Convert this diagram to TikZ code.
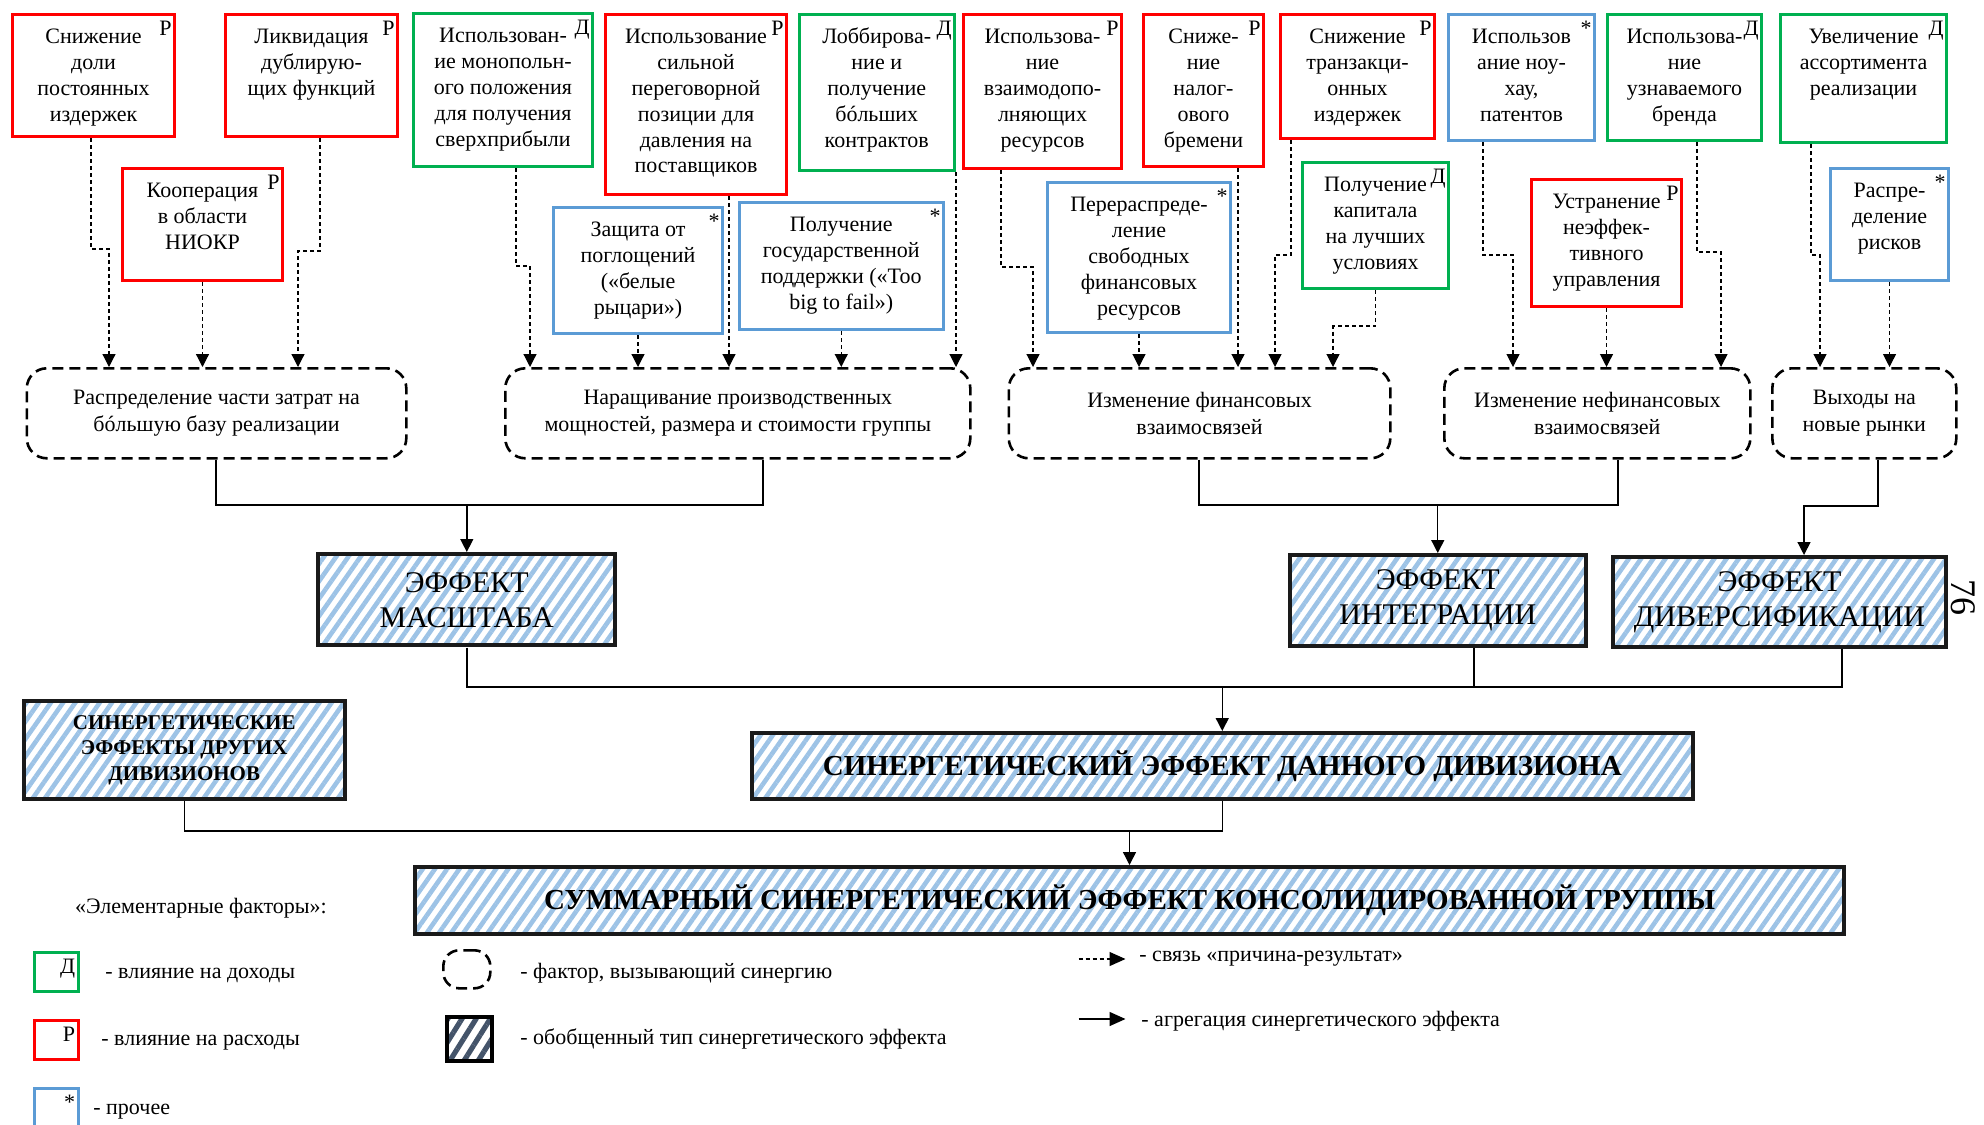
\documentclass[tikz,border=0pt]{standalone}
\usepackage{fontspec}
\setmainfont{Liberation Serif}
\usetikzlibrary{arrows.meta,patterns.meta}

\definecolor{costred}{HTML}{FF0000}
\definecolor{incgreen}{HTML}{00B050}
\definecolor{othblue}{HTML}{5B9BD5}
\definecolor{hatchblue}{HTML}{9DC3E6}
\definecolor{hatchdark}{HTML}{44546A}
\definecolor{frame}{HTML}{1A1A1A}

% factor box: name, colour, corner mark, left, top, right, bottom, text (top aligned)
\newcommand\factorbox[8]{%
  \node[factor=#2, corner=#3] (#1) at (#4,#5)
    {\parbox[c][\dimexpr(#7pt-#5pt)/2\relax][t]{\dimexpr(#6pt-#4pt)/2\relax}%
      {\centering\vspace*{5.4pt}\strut#8\par}};}
% area box: name, style, left, top, right, bottom, text (centred)
\newcommand\areabox[7]{%
  \node[#2] (#1) at (#3,#4)
    {\parbox[c][\dimexpr(#6pt-#4pt)/2\relax][c]{\dimexpr(#5pt-#3pt)/2\relax}%
      {\centering\leavevmode #7\par}};}

\begin{document}
\begin{tikzpicture}[x=0.5pt,y=-0.5pt,
  basefont/.style={font=\fontsize{11}{12.95}\selectfont},
  factor/.style={draw=#1, line width=1.5pt, inner sep=0pt, anchor=north west, basefont},
  cornerlbl/.style={anchor=north east, inner sep=0pt, xshift=-2pt, yshift=-4pt,
    font=\fontsize{11}{13}\selectfont},
  corner/.style={label={[cornerlbl]north east:#1}},
  synergy/.style={draw, line width=1.3pt, dash pattern=on 5.5pt off 3pt,
    rounded corners=10pt, inner sep=0pt, anchor=north west,
    font=\fontsize{11}{13.3}\selectfont},
  effect/.style={draw=frame, line width=2pt, inner sep=0pt, anchor=north west,
    pattern={Lines[angle=55,distance=5pt,line width=2.3pt]}, pattern color=hatchblue},
  effectfont/.style={font=\fontsize{15}{17.5}\selectfont},
  bigbold/.style={font=\bfseries\fontsize{14.5}{17}\selectfont},
  smallbold/.style={font=\bfseries\fontsize{10.5}{12.75}\selectfont},
  effectdark/.style={draw=black, line width=2pt, inner sep=0pt, anchor=north west,
    pattern={Lines[angle=58,distance=6pt,line width=2.6pt]}, pattern color=hatchdark},
  legtext/.style={anchor=west, inner sep=0pt, font=\fontsize{11}{13}\selectfont},
  cause/.style={line width=0.6pt, dash pattern=on 2pt off 1.5pt,
    -{Triangle[length=6.5pt,width=6.5pt]}},
  agg/.style={line width=0.7pt, -{Triangle[length=6.5pt,width=6.5pt]}},
  link/.style={line width=0.7pt},
  legtip/.style={-{Triangle[length=8pt,width=7pt]}}
]
\useasboundingbox (0,0) rectangle (1984,1124);

% ---- elementary factors ----
\factorbox{c1}{costred}{Р}{11}{13}{173}{135}{Снижение\\доли\\постоянных\\издержек}
\factorbox{c2}{costred}{Р}{224}{13}{396}{135}{Ликвидация\\дублирую-\\щих функций}
\factorbox{c3}{costred}{Р}{121}{167}{281}{279}{Кооперация\\в области\\НИОКР}
\factorbox{c4}{incgreen}{Д}{412}{12}{591}{165}{Использован-\\ие монопольн-\\ого положения\\для получения\\сверхприбыли}
\factorbox{c5}{costred}{Р}{604}{13}{785}{193}{Использование\\сильной\\переговорной\\позиции для\\давления на\\поставщиков}
\factorbox{c6}{incgreen}{Д}{797.5}{13}{953}{169}{Лоббирова-\\ние и\\получение\\бóльших\\контрактов}
\factorbox{c7}{othblue}{*}{552}{206}{721}{332}{Защита от\\поглощений\\(«белые\\рыцари»)}
\factorbox{c8}{othblue}{*}{737.5}{201}{942}{328}{Получение\\государственной\\поддержки («Too\\big to fail»)}
\factorbox{c9}{costred}{Р}{962}{13}{1120}{167}{Использова-\\ние\\взаимодопо-\\лняющих\\ресурсов}
\factorbox{c10}{costred}{Р}{1142}{13}{1262}{165}{Сниже-\\ние\\налог-\\ового\\бремени}
\factorbox{c11}{costred}{Р}{1279}{13}{1433}{137}{Снижение\\транзакци-\\онных\\издержек}
\factorbox{c12}{othblue}{*}{1046}{181}{1229}{331}{Перераспреде-\\ление\\свободных\\финансовых\\ресурсов}
\factorbox{c13}{incgreen}{Д}{1301}{161}{1447}{287}{Получение\\капитала\\на лучших\\условиях}
\factorbox{c14}{othblue}{*}{1447}{13}{1593}{139}{Использов\\ание ноу-\\хау,\\патентов}
\factorbox{c15}{incgreen}{Д}{1606}{13}{1760}{139}{Использова-\\ние\\узнаваемого\\бренда}
\factorbox{c16}{incgreen}{Д}{1779}{13}{1945}{141}{Увеличение\\ассортимента\\реализации}
\factorbox{c17}{costred}{Р}{1530}{178}{1680}{305}{Устранение\\неэффек-\\тивного\\управления}
\factorbox{c18}{othblue}{*}{1829}{167}{1947}{279}{Распре-\\деление\\рисков}

% ---- factors causing synergy ----
\areabox{d1}{synergy}{25.5}{367}{405}{457}{Распределение части затрат на\\бóльшую базу реализации}
\areabox{d2}{synergy}{504}{367}{969}{457}{Наращивание производственных\\мощностей, размера и стоимости группы}
\areabox{d3}{synergy}{1007.5}{367}{1389}{457}{Изменение финансовых\\взаимосвязей}
\areabox{d4}{synergy}{1443}{367}{1749}{457}{Изменение нефинансовых\\взаимосвязей}
\areabox{d5}{synergy}{1771}{367}{1955}{457}{Выходы на\\новые рынки}

% ---- generalised effects ----
\areabox{e1}{effect,effectfont}{316}{552}{613}{643}{ЭФФЕКТ\\МАСШТАБА}
\areabox{e2}{effect,effectfont}{1287.5}{553}{1584}{644}{ЭФФЕКТ\\ИНТЕГРАЦИИ}
\areabox{e3}{effect,effectfont}{1611}{555}{1944}{645}{ЭФФЕКТ\\ДИВЕРСИФИКАЦИИ}
\areabox{oth}{effect,smallbold}{22}{699}{342.5}{797}{СИНЕРГЕТИЧЕСКИЕ\\ЭФФЕКТЫ ДРУГИХ\\ДИВИЗИОНОВ}
\areabox{div}{effect,bigbold}{750}{731}{1690.5}{797}{СИНЕРГЕТИЧЕСКИЙ ЭФФЕКТ ДАННОГО ДИВИЗИОНА}
\areabox{tot}{effect,bigbold}{413}{865}{1842}{932}{СУММАРНЫЙ СИНЕРГЕТИЧЕСКИЙ ЭФФЕКТ КОНСОЛИДИРОВАННОЙ ГРУППЫ}

\node[rotate=-90, inner sep=0pt, font=\fontsize{18}{20}\selectfont] (pg) at (1963,597) {76};

% ---- cause-result links ----
\draw[cause] (91,0 |- c1.south) |- (109,249) -- (109,0 |- d1.north);
\draw[cause] (c3.south) -- (c3.south |- d1.north);
\draw[cause] (320,0 |- c2.south) |- (298,251) -- (298,0 |- d1.north);

\draw[cause] (516,0 |- c4.south) |- (530,266) -- (530,0 |- d2.north);
\draw[cause] (c7.south) -- (c7.south |- d2.north);
\draw[cause] (729,0 |- c5.south) -- (729,0 |- d2.north);
\draw[cause] (c8.south) -- (c8.south |- d2.north);
\draw[cause] (c6.south east) -- (c6.south east |- d2.north);

\draw[cause] (1001,0 |- c9.south) |- (1033,267) -- (1033,0 |- d3.north);
\draw[cause] (c12.south) -- (c12.south |- d3.north);
\draw[cause] (1238,0 |- c10.south) -- (1238,0 |- d3.north);
\draw[cause] (1291,0 |- c11.south) |- (1275,255) -- (1275,0 |- d3.north);
\draw[cause] (c13.south) |- (1333,326) -- (1333,0 |- d3.north);

\draw[cause] (1483,0 |- c14.south) |- (1513,255) -- (1513,0 |- d4.north);
\draw[cause] (c17.south) -- (c17.south |- d4.north);
\draw[cause] (1697,0 |- c15.south) |- (1721,252) -- (1721,0 |- d4.north);

\draw[cause] (1811,0 |- c16.south) |- (1820,255) -- (1820,0 |- d5.north);
\draw[cause] (c18.south) -- (c18.south |- d5.north);

% ---- aggregation ----
\draw[link] (216,0 |- d1.south) |- (763,505) -- (763,0 |- d2.south);
\draw[agg] (e1.north |- 0,505) -- (e1.north);
\draw[link] (1199,0 |- d3.south) |- (1618,505) -- (1618,0 |- d4.south);
\draw[agg] (e2.north |- 0,505) -- (e2.north);
\draw[agg] (1878,0 |- d5.south) |- (1804,506) -- (1804,0 |- e3.north);

\draw[link] (e1.south) |- (1842,687) -- (1842,0 |- e3.south);
\draw[link] (1474,0 |- e2.south) -- (1474,687);
\draw[agg] (div.north |- 0,687) -- (div.north);

\draw[link] (oth.south) |- (div.south |- 0,831) -- (div.south);
\draw[agg] (tot.north |- 0,831) -- (tot.north);

% ---- legend ----
\node[legtext, anchor=center] (lhead) at (201,908) {«Элементарные факторы»:};
\factorbox{lgD}{incgreen}{Д}{33}{951}{76.5}{990}{}
\factorbox{lgR}{costred}{Р}{33}{1019}{76.5}{1058}{}
\factorbox{lgS}{othblue}{*}{33}{1087}{76.5}{1134}{}
\node[legtext] (ltD) at (105,975) {- влияние на доходы};
\node[legtext] (ltR) at (101,1043) {- влияние на расходы};
\node[legtext] (ltS) at (93,1112) {- прочее};

\areabox{lgF}{synergy,rounded corners=8pt}{442}{949}{489}{987}{}
\areabox{lgE}{effectdark}{444.5}{1014}{489}{1058}{}
\node[legtext] (ltF) at (520,973) {- фактор, вызывающий синергию};
\node[legtext] (ltE) at (520,1039) {- обобщенный тип синергетического эффекта};

\coordinate (la1) at (1078.5,959);
\coordinate (la2) at (1125.5,959);
\coordinate (lb1) at (1078.5,1019);
\coordinate (lb2) at (1125.5,1019);
\draw[cause, legtip] (la1) -- (la2);
\draw[agg, legtip] (lb1) -- (lb2);
\node[legtext] (ltA) at (1139,959) {- связь «причина-результат»};
\node[legtext] (ltB) at (1141,1021) {- агрегация синергетического эффекта};
\end{tikzpicture}
\end{document}
